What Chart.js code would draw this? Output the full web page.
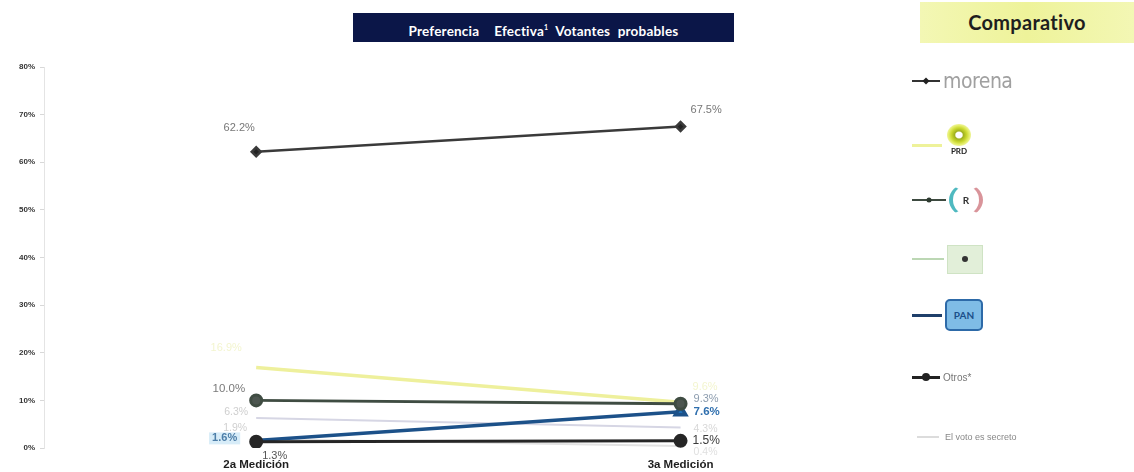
<!DOCTYPE html>
<html>
<head>
<meta charset="utf-8">
<script src="https://cdn.jsdelivr.net/npm/chart.js@4.4.0/dist/chart.umd.min.js"></script>
<style>
  body { margin: 0; background: #fff; font-family: Lato, "Open Sans", sans-serif; }
  #wrap { position: relative; width: 1134px; height: 472px; overflow: hidden; }
  #titulo {
    position: absolute; left: 353px; top: 13px; width: 381px; height: 29px;
    background: #0b1648; color: #fff; font-weight: bold; font-size: 13.5px;
    line-height: 29px; text-align: center; word-spacing: 4px; letter-spacing: 0.2px;
  }
  #titulo sup { font-size: 7px; }
  #comparativo {
    position: absolute; left: 920px; top: 2px; width: 214px; height: 41px;
    background: linear-gradient(90deg, #f3f7b4, #eef39a 50%, #f3f7b4);
    color: #1e1e1e; font-weight: bold; font-size: 20px; line-height: 41px;
    text-align: center; letter-spacing: 0.3px;
  }
  .item { position: absolute; left: 912px; height: 30px; display: flex; align-items: center; }
  .linea { height: 2px; margin-right: 3px; position: relative; }
  .punto { position: absolute; top: 50%; left: 50%; transform: translate(-50%, -50%); }
  .txt { color: #8d8d8d; }
</style>
</head>
<body>
<div id="wrap">
  <canvas id="grafica" width="1134" height="472"></canvas>
  <div id="titulo">Preferencia&nbsp; Efectiva<sup>1</sup> Votantes probables</div>
  <div id="comparativo">Comparativo</div>

  <div class="item" style="top:66px">
    <div class="linea" style="width:28px;background:#333">
      <div class="punto" style="width:5px;height:5px;background:#222;transform:translate(-50%,-50%) rotate(45deg)"></div>
    </div>
    <span class="txt" style="font-size:21px;font-family:'DejaVu Sans Condensed',sans-serif;color:#a0a0a0;letter-spacing:-0.5px">morena</span>
  </div>

  <div class="item" style="top:122px;height:36px">
    <div class="linea" style="width:30px;background:#eef29a;height:3px;margin-top:10px"></div>
    <div style="display:flex;flex-direction:column;align-items:center;margin-left:2px">
      <div style="width:24px;height:22px;border-radius:50%;background:radial-gradient(#fff 18%,#9fb020 26%,#c9d82e 45%,#e6ef70 62%,#f6f9cc 80%)"></div>
      <span style="font-size:8px;font-weight:bold;color:#222;line-height:10px">PRD</span>
    </div>
  </div>

  <div class="item" style="top:185px">
    <div class="linea" style="width:34px;background:#3d4a40">
      <div class="punto" style="width:5px;height:5px;border-radius:50%;background:#2d3a30"></div>
    </div>
    <div style="width:26px;height:28px;border-radius:50%;border-left:4px solid #4fb9c0;border-right:4px solid #d9949a;border-top:2px solid transparent;border-bottom:2px solid transparent;display:flex;align-items:center;justify-content:center;font-size:10px;font-weight:bold;color:#333">R</div>
  </div>

  <div class="item" style="top:244px">
    <div class="linea" style="width:32px;background:#bcd7b4"></div>
    <div style="width:34px;height:27px;background:#e2efd9;border:1px solid #cfe3c4;display:flex;align-items:center;justify-content:center">
      <div style="width:6px;height:6px;border-radius:50%;background:#333"></div>
    </div>
  </div>

  <div class="item" style="top:300px">
    <div class="linea" style="width:30px;background:#1f3f6a;height:3px"></div>
    <div style="width:34px;height:28px;border-radius:5px;background:#7fbce6;border:2px solid #2d6aa8;display:flex;align-items:center;justify-content:center;font-size:10px;font-weight:bold;color:#1b4f8a">PAN</div>
  </div>

  <div class="item" style="top:362px">
    <div class="linea" style="width:28px;background:#222;height:3px">
      <div class="punto" style="width:8px;height:8px;border-radius:50%;background:#222"></div>
    </div>
    <span class="txt" style="font-size:10px;font-family:Arial,'Liberation Sans',sans-serif;color:#777">Otros*</span>
  </div>

  <div class="item" style="top:422px;left:917px">
    <div class="linea" style="width:22px;background:#dcdcdc"></div>
    <span class="txt" style="font-size:9px;font-family:Arial,'Liberation Sans',sans-serif;color:#888;margin-left:3px">El voto es secreto</span>
  </div>
</div>

<script>
// categorias y valores (%)
const mediciones = ['2a Medición', '3a Medición'];
const morena = [62.2, 67.5];
const prd = [16.9, 9.6];
const pri = [10.0, 9.3];
const pvem = [6.3, 4.3];
const pan = [1.6, 7.6];
const otros = [1.3, 1.5];
const votoSecreto = [1.9, 0.4];

const toPoints = (arr) => arr.map((v, i) => ({ x: i, y: v }));

// etiquetas de valor junto a cada punto
const etiquetas = {
  id: 'etiquetas',
  afterDatasetsDraw(chart) {
    const ctx = chart.ctx;
    chart.data.datasets.forEach((ds, i) => {
      const meta = chart.getDatasetMeta(i);
      if (!ds.etiquetas) return;
      meta.data.forEach((pt, j) => {
        const e = ds.etiquetas[j];
        if (!e) return;
        const texto = ds.data[j].y.toFixed(1) + '%';
        ctx.save();
        ctx.font = (e.bold ? 'bold ' : '') + (e.size || 11) + 'px Arial, "Liberation Sans", sans-serif';
        ctx.textAlign = e.align;
        ctx.textBaseline = 'middle';
        const x = pt.x + e.dx;
        const y = pt.y + e.dy;
        if (e.fondo) {
          const w = ctx.measureText(texto).width;
          const x0 = e.align === 'right' ? x - w : x;
          ctx.fillStyle = e.fondo;
          ctx.fillRect(x0 - 3, y - 6, w + 6, 12);
        }
        ctx.fillStyle = e.color;
        ctx.fillText(texto, x, y);
        ctx.restore();
      });
    });
  }
};

new Chart(document.getElementById('grafica'), {
  type: 'line',
  data: {
    datasets: [
      {
        label: 'Otros*', data: toPoints(otros), borderColor: '#262626', backgroundColor: '#262626',
        borderWidth: 3, pointRadius: 5.5, pointStyle: 'circle',
        etiquetas: [
          { dx: 6, dy: 14, align: 'left', color: '#555', size: 11 },
          { dx: 12, dy: 0, align: 'left', color: '#3a3a3a', size: 12 }
        ]
      },
      {
        label: 'morena', data: toPoints(morena), borderColor: '#3a3a3a', backgroundColor: '#222',
        borderWidth: 2.5, pointRadius: 4.5, pointStyle: 'rectRot',
        etiquetas: [
          { dx: -17, dy: -24, align: 'center', color: '#777', size: 11 },
          { dx: 10, dy: -17, align: 'left', color: '#777', size: 11 }
        ]
      },
      {
        label: 'PRI', data: toPoints(pri), borderColor: '#3f4c42', backgroundColor: '#4d5650',
        borderWidth: 3, pointRadius: 5.5, pointStyle: 'circle',
        etiquetas: [
          { dx: -11, dy: -12, align: 'right', color: '#7a7a7a', size: 11.5 },
          { dx: 13, dy: -5, align: 'left', color: '#8c9cae', size: 11 }
        ]
      },
      {
        label: 'PAN', data: toPoints(pan), borderColor: '#1c5189', backgroundColor: '#1f6fb5',
        borderWidth: 3.5, pointRadius: [0, 6], pointStyle: 'triangle',
        etiquetas: [
          { dx: -19, dy: -2, align: 'right', color: '#4d7ea8', size: 11, bold: true, fondo: '#d7ecf8' },
          { dx: 13, dy: 0, align: 'left', color: '#2f6fae', size: 11.5, bold: true }
        ]
      },
      {
        label: 'PVEM', data: toPoints(pvem), borderColor: '#d6d6e4', backgroundColor: '#d6d6e4',
        borderWidth: 2, pointRadius: 0,
        etiquetas: [
          { dx: -8, dy: -6, align: 'right', color: '#cfcfcf', size: 10.5 },
          { dx: 13, dy: 2, align: 'left', color: '#d8d8d8', size: 10.5 }
        ]
      },
      {
        label: 'El voto es secreto', data: toPoints(votoSecreto), borderColor: '#e2e2e2', backgroundColor: '#e2e2e2',
        borderWidth: 2, pointRadius: 0,
        etiquetas: [
          { dx: -9, dy: -11, align: 'right', color: '#d0d0d0', size: 10.5 },
          { dx: 13, dy: 6, align: 'left', color: '#e0e0e0', size: 10.5 }
        ]
      },
      {
        label: 'PRD', data: toPoints(prd), borderColor: '#eef09c', backgroundColor: '#eef09c',
        borderWidth: 3.5, pointRadius: 0,
        etiquetas: [
          { dx: -30, dy: -20, align: 'center', color: '#f3f5cf', size: 11 },
          { dx: 12, dy: -15, align: 'left', color: '#f3f5cf', size: 11 }
        ]
      }
    ]
  },
  options: {
    responsive: false,
    animation: false,
    layout: { padding: { top: 67, right: 254, left: 0, bottom: 0 } },
    plugins: { legend: { display: false }, tooltip: { enabled: false } },
    elements: { line: { tension: 0 } },
    scales: {
      x: {
        type: 'linear',
        min: -0.5,
        max: 1.47,
        afterBuildTicks: (scale) => { scale.ticks = mediciones.map((m, i) => ({ value: i })); },
        afterFit: (scale) => { scale.height = 24; },
        ticks: {
          callback: (v) => mediciones[v],
          color: '#1e1e1e',
          font: { size: 11.5, weight: 'bold', family: 'Arial, "Liberation Sans", sans-serif' },
          padding: 2,
          maxRotation: 0
        },
        grid: { display: false },
        border: { display: false }
      },
      y: {
        min: 0,
        max: 80,
        afterFit: (scale) => { scale.width = 44; },
        ticks: {
          stepSize: 10,
          callback: (v) => v + '%',
          color: '#333',
          font: { size: 8, weight: 'bold', family: 'Arial, "Liberation Sans", sans-serif' },
          padding: 5
        },
        grid: { drawOnChartArea: false, tickLength: 4, color: '#d8d8d8' },
        border: { color: '#e4e4e4' }
      }
    }
  },
  plugins: [etiquetas]
});
</script>
</body>
</html>
